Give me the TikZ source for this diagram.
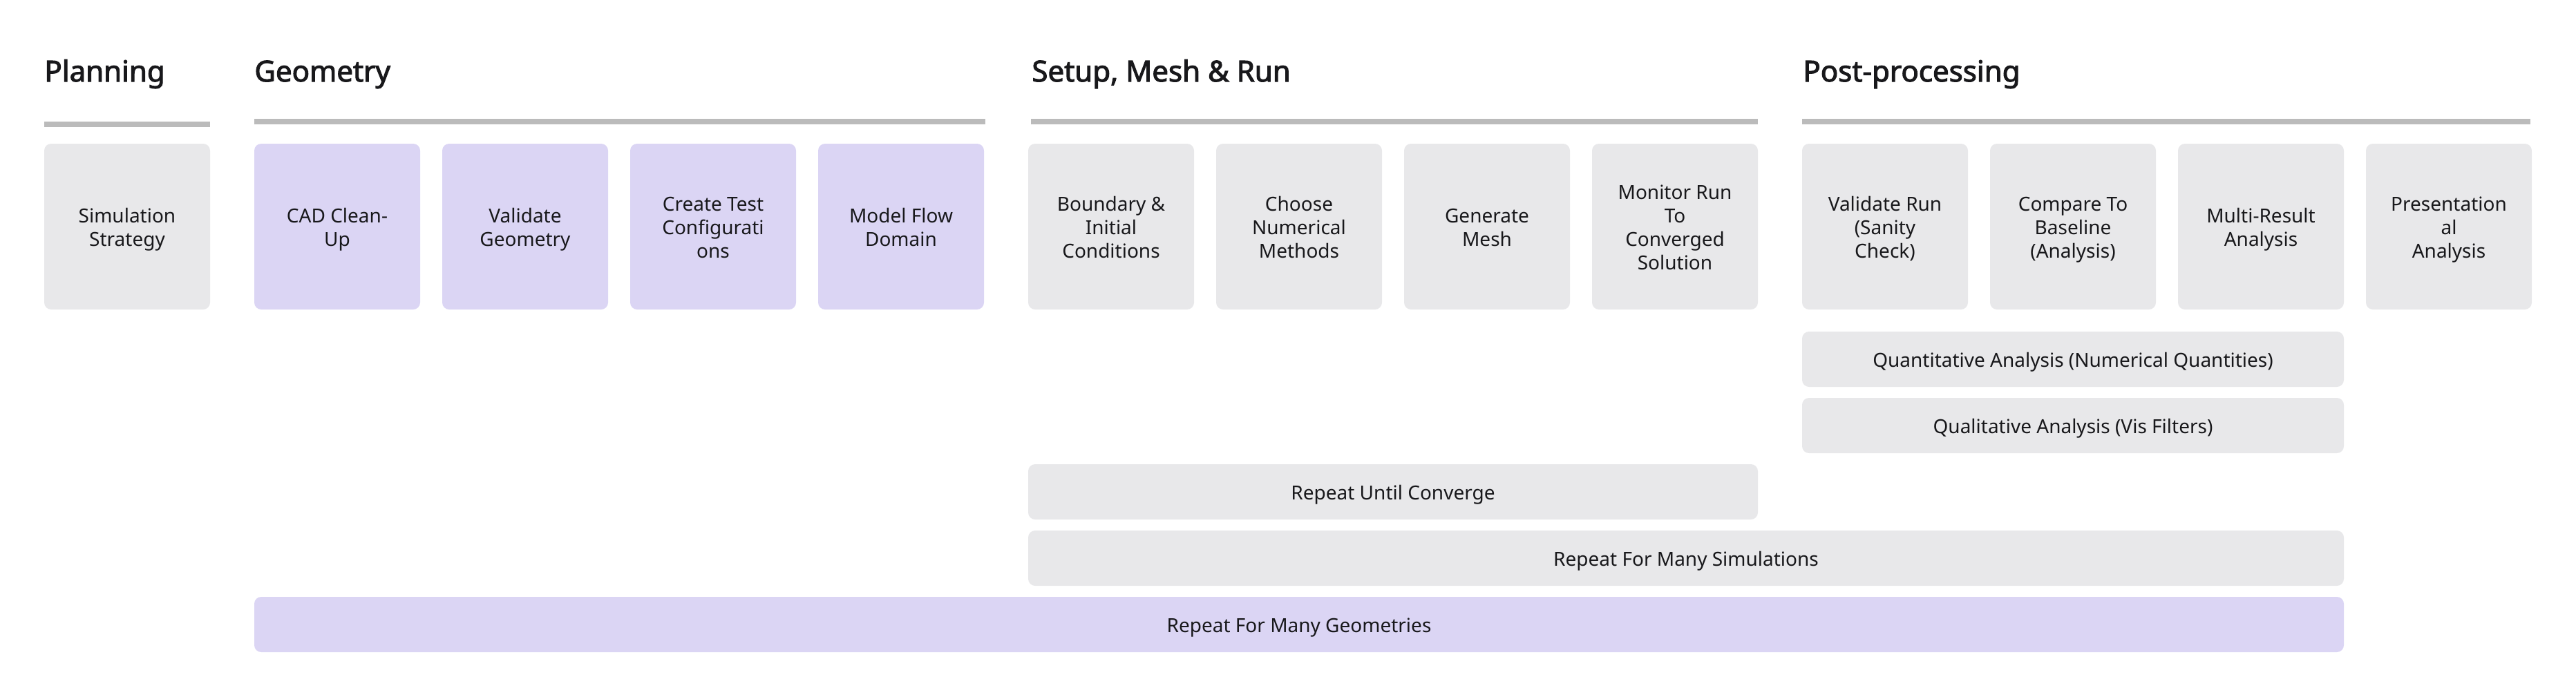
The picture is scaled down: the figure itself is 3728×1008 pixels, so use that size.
\documentclass[tikz,border=0pt]{standalone}
\usepackage{fontspec}
\setmainfont{Noto Sans}
\newfontfamily\titlefont[FakeBold=2.5]{Noto Sans}
\definecolor{boxgray}{HTML}{E8E8EA}
\definecolor{boxpurple}{HTML}{DBD5F4}
\definecolor{rulegray}{HTML}{BBBBBB}
\definecolor{ink}{HTML}{18181B}
\newcommand\ctext[1]{\raisebox{0pt}[\dimexpr\height+4.4pt\relax][\depth]{\begin{tabular}{@{}c@{}}#1\end{tabular}}}
\tikzset{
  card/.style={fill=boxgray, draw=none, rounded corners=5pt, minimum width=120pt, minimum height=120pt, inner sep=0pt, text=ink, font=\fontsize{14}{17}\selectfont},
  pcard/.style={card, fill=boxpurple},
  bar/.style={fill=boxgray, draw=none, rounded corners=5pt, minimum height=40pt, inner sep=0pt, text=ink, font=\fontsize{14}{17}\selectfont},
  pbar/.style={bar, fill=boxpurple},
  title/.style={anchor=base west, inner sep=0pt, text=ink, font=\fontsize{21}{25}\selectfont\titlefont},
  hrule/.style={fill=rulegray, draw=none}
}
\begin{document}
\begin{tikzpicture}[x=0.5pt, y=-0.5pt]
\useasboundingbox (0,0) rectangle (3728,1008);
% titles
\node[title] (tPlan) at (64,118) {Planning};
\node[title] (tGeom) at (368,118) {Geometry};
\node[title] (tSetup) at (1493,118) {Setup, Mesh \& Run};
\node[title] (tPost) at (2609,118) {Post-processing};
% rules
\fill[hrule] (64,176) rectangle (304,184);
\fill[hrule] (368,172) rectangle (1426,180);
\fill[hrule] (1492,172) rectangle (2544,180);
\fill[hrule] (2608,172) rectangle (3662,180);
% cards
\node[card] (sim) at (184,328) {\ctext{Simulation\\Strategy}};
\node[pcard] (cad) at (488,328) {\ctext{CAD Clean-\\Up}};
\node[pcard] (valg) at (760,328) {\ctext{Validate\\Geometry}};
\node[pcard] (ctc) at (1032,328) {\ctext{Create Test\\Configurati\\ons}};
\node[pcard] (mfd) at (1304,328) {\ctext{Model Flow\\Domain}};
\node[card] (bic) at (1608,328) {\ctext{Boundary \&\\Initial\\Conditions}};
\node[card] (cnm) at (1880,328) {\ctext{Choose\\Numerical\\Methods}};
\node[card] (gm) at (2152,328) {\ctext{Generate\\Mesh}};
\node[card] (mon) at (2424,328) {\ctext{Monitor Run\\To\\Converged\\Solution}};
\node[card] (vr) at (2728,328) {\ctext{Validate Run\\(Sanity\\Check)}};
\node[card] (ctb) at (3000,328) {\ctext{Compare To\\Baseline\\(Analysis)}};
\node[card] (mra) at (3272,328) {\ctext{Multi-Result\\Analysis}};
\node[card] (pa) at (3544,328) {\ctext{Presentation\\al\\Analysis}};
% bars
\node[bar, minimum width=392pt] (quant) at (3000,520) {\ctext{Quantitative Analysis (Numerical Quantities)}};
\node[bar, minimum width=392pt] (qual) at (3000,616) {\ctext{Qualitative Analysis (Vis Filters)}};
\node[bar, minimum width=528pt] (ruc) at (2016,712) {\ctext{Repeat Until Converge}};
\node[bar, minimum width=952pt] (rfms) at (2440,808) {\ctext{Repeat For Many Simulations}};
\node[pbar, minimum width=1512pt] (rfmg) at (1880,904) {\ctext{Repeat For Many Geometries}};
\end{tikzpicture}
\end{document}
